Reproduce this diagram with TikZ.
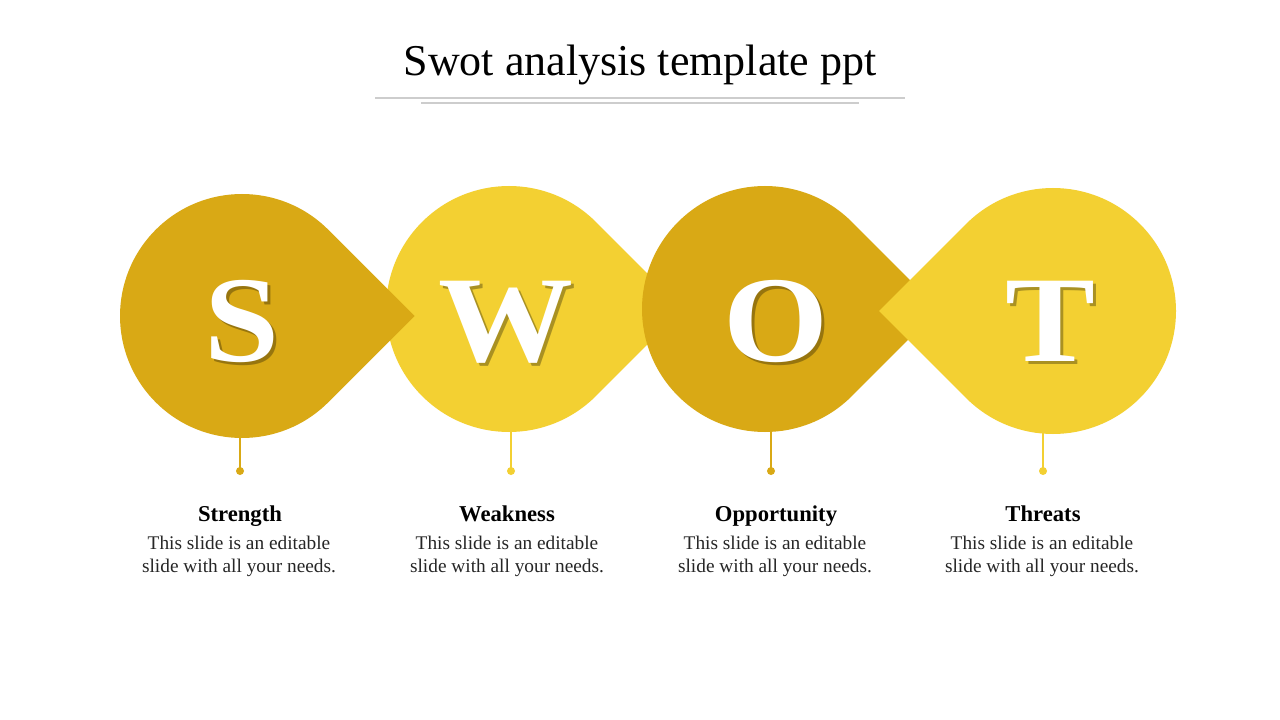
\documentclass[tikz,border=0pt]{standalone}
\usepackage{fontspec}
\setmainfont{Liberation Serif}
\definecolor{gold}{RGB}{217,169,21}
\definecolor{lemon}{RGB}{243,208,50}
\definecolor{rulegray}{RGB}{205,205,205}
\definecolor{bodytext}{RGB}{38,38,38}
\newcommand\tdrop[6]{% cx, cy, r, dir, tipx, colour
  \fill[#6] (#1,#2) ++(#4+45:#3) arc[start angle=#4+45, end angle=#4+315, radius=#3] -- (#5,#2) -- cycle;}
\newcommand\wideletter[1]{\scalebox{1.1}[1]{#1}}
\begin{document}
\begin{tikzpicture}[x=0.75pt,y=-0.75pt,
  big/.style={font=\fontsize{92}{92}\selectfont\bfseries, inner sep=0pt, anchor=base, text=white},
  shadowtxt/.style={big, text=black, opacity=0.3},
  head/.style={font=\fontsize{17}{20}\selectfont\bfseries, inner sep=0pt, anchor=base, text=black},
  body/.style={font=\fontsize{14.5}{17.25}\selectfont, inner sep=0pt, align=center, anchor=center, text=bodytext},
  stem/.style={line width=1.5pt},
  dot/.style={circle, inner sep=0pt, minimum size=6pt}]
\useasboundingbox (0,0) rectangle (1280,720);
\fill[white] (0,0) rectangle (1280,720);
% title
\node[font=\fontsize{33}{36}\selectfont, inner sep=0pt, anchor=base] (title) at (640,76) {Swot analysis template ppt};
\coordinate (r1a) at (375,98); \coordinate (r1b) at (905,98);
\coordinate (r2a) at (421,103); \coordinate (r2b) at (859,103);
\draw[rulegray, line width=0.8pt] (r1a) -- (r1b);
\draw[rulegray, line width=0.8pt] (r2a) -- (r2b);
% teardrops
\tdrop{509}{309}{123}{0}{683}{lemon}
\tdrop{242}{316}{122}{0}{414.5}{gold}
\tdrop{765}{309}{123}{0}{939}{gold}
\tdrop{1053}{311}{123}{180}{879}{lemon}
% letters
\node[shadowtxt] (sS) at (245,364) {\wideletter{S}};
\node[big] (lS) at (242,361) {\wideletter{S}};
\node[shadowtxt] (sW) at (509,364) {\wideletter{W}};
\node[big] (lW) at (506,361) {\wideletter{W}};
\node[shadowtxt] (sO) at (779,364) {\wideletter{O}};
\node[big] (lO) at (776,361) {\wideletter{O}};
\node[shadowtxt] (sT) at (1053,364) {\wideletter{T}};
\node[big] (lT) at (1050,361) {\wideletter{T}};
% stems and dots
\coordinate (c1) at (240,437);
\coordinate (c2) at (511,431);
\coordinate (c3) at (771,431);
\coordinate (c4) at (1043,433);
\node[dot, fill=gold] (d1) at (240,471) {};
\node[dot, fill=lemon] (d2) at (511,471) {};
\node[dot, fill=gold] (d3) at (771,471) {};
\node[dot, fill=lemon] (d4) at (1043,471) {};
\draw[stem, gold] (c1) -- (d1.center);
\draw[stem, lemon] (c2) -- (d2.center);
\draw[stem, gold] (c3) -- (d3.center);
\draw[stem, lemon] (c4) -- (d4.center);
% labels
\node[head] (h1) at (240,521) {Strength};
\node[head] (h2) at (507,521) {Weakness};
\node[head] (h3) at (776,521) {Opportunity};
\node[head] (h4) at (1043,521) {Threats};
\node[body] (b1) at (239,556) {This slide is an editable\\slide with all your needs.};
\node[body] (b2) at (507,556) {This slide is an editable\\slide with all your needs.};
\node[body] (b3) at (775,556) {This slide is an editable\\slide with all your needs.};
\node[body] (b4) at (1042,556) {This slide is an editable\\slide with all your needs.};
\end{tikzpicture}
\end{document}
